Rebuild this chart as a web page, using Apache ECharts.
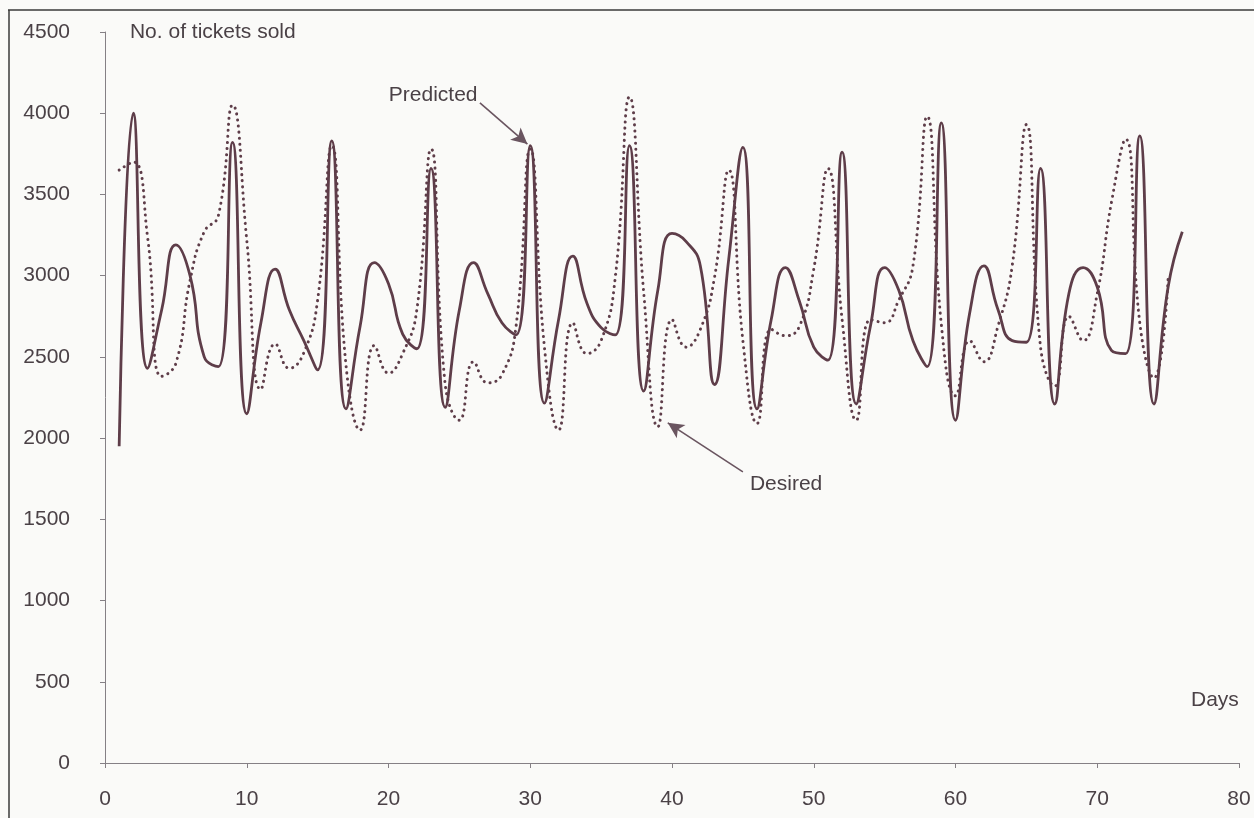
<!DOCTYPE html>
<html>
<head>
<meta charset="utf-8">
<script src="https://cdn.jsdelivr.net/npm/echarts@6/dist/echarts.min.js"></script>
<style>
html,body{margin:0;padding:0;background:#fafaf8;}
#c{width:1254px;height:818px;}
</style>
</head>
<body>
<div id="c"></div>
<script>
// Days 1..76
const days = Array.from({length: 76}, (_, i) => i + 1);

const predicted = [
  1950, 4000, 2430, 2790, 3190, 3000, 2500, 2440, 3820, 2150,
  2710, 3040, 2790, 2605, 2420, 3830, 2180, 2690, 3080, 2950,
  2640, 2550, 3660, 2190, 2790, 3080, 2890, 2710, 2635, 3800,
  2215, 2730, 3120, 2830, 2680, 2635, 3800, 2290, 2910, 3260,
  3210, 3060, 2330, 3100, 3790, 2180, 2730, 3050, 2840, 2560,
  2480, 3760, 2210, 2690, 3050, 2910, 2600, 2440, 3940, 2110,
  2770, 3060, 2790, 2600, 2590, 3660, 2210, 2890, 3050, 2930,
  2540, 2520, 3860, 2210, 2930, 3270
];

const desired = [
  3650, 3700, 3240, 2380, 2460, 2970, 3270, 3370, 4050, 3220,
  2300, 2580, 2430, 2520, 2850, 3800, 2450, 2050, 2570, 2400,
  2520, 2790, 3780, 2330, 2110, 2470, 2340, 2390, 2690, 3780,
  2560, 2050, 2710, 2520, 2600, 2990, 4100, 2900, 2070, 2730,
  2560, 2670, 2990, 3650, 2600, 2090, 2670, 2630, 2690, 3040,
  3660, 2730, 2110, 2730, 2710, 2850, 3060, 3980, 2700, 2260,
  2600, 2470, 2690, 3060, 3930, 2560, 2320, 2750, 2600, 2890,
  3450, 3840, 2710, 2370, 2980
];

const yTicks = [0, 500, 1000, 1500, 2000, 2500, 3000, 3500, 4000, 4500];
const xTicks = [0, 10, 20, 30, 40, 50, 60, 70, 80];

const INK = '#5e3d49';
const AXIS = '#858085';
const TEXT = '#4a4146';
const FONT = 'Liberation Sans, Arial, sans-serif';
const FS = 21;

const chart = echarts.init(document.getElementById('c'), null, {renderer: 'canvas'});

const predPairs = predicted.map((v, i) => [days[i], v]);
const desPairs = desired.map((v, i) => [days[i], v]);

chart.setOption({
  backgroundColor: '#fafaf8',
  animation: false,
  grid: {left: 105, right: 15, top: 32, bottom: 55, containLabel: false},
  xAxis: {
    type: 'value', min: xTicks[0], max: xTicks[xTicks.length - 1], interval: 10,
    axisLine: {show: true, onZero: false, lineStyle: {color: AXIS, width: 1}},
    axisTick: {show: true, length: 5, lineStyle: {color: AXIS}},
    axisLabel: {color: TEXT, fontSize: FS, fontFamily: FONT, margin: 26, formatter: v => String(v)},
    splitLine: {show: false}
  },
  yAxis: {
    type: 'value', min: yTicks[0], max: yTicks[yTicks.length - 1], interval: 500,
    axisLine: {show: true, lineStyle: {color: AXIS, width: 1}},
    axisTick: {show: true, length: 5, lineStyle: {color: AXIS}},
    axisLabel: {color: TEXT, fontSize: FS, fontFamily: FONT, margin: 35, formatter: v => String(v)},
    splitLine: {show: false}
  },
  series: [
    {
      name: 'Desired', type: 'line', data: desPairs, smooth: 0.5,
      showSymbol: false, symbol: 'none',
      lineStyle: {color: INK, width: 3, type: [0.1, 6], cap: 'round'},
      z: 2
    },
    {
      name: 'Predicted', type: 'line', data: predPairs, smooth: 0.5,
      showSymbol: false, symbol: 'none',
      lineStyle: {color: INK, width: 2.8},
      z: 3,
      markLine: {
        silent: true, symbol: ['none', 'arrow'], symbolSize: [12, 16],
        label: {show: false},
        lineStyle: {color: '#6a5560', width: 1.6, type: 'solid'},
        data: [
          [{coord: [26.45, 4064]}, {coord: [29.8, 3810]}],
          [{coord: [45.0, 1792]}, {coord: [39.7, 2094]}]
        ]
      }
    }
  ]
});

function px(x, y) { return chart.convertToPixel({gridIndex: 0}, [x, y]); }
const pPred = px(23.15, 4113);
const pDes = px(48.05, 1718);
const pYName = px(1.76, 4500);
const pDays = px(78.3, 388);

chart.setOption({
  graphic: [
    {type: 'text', x: pYName[0], y: pYName[1], style: {text: 'No. of tickets sold', fill: TEXT, font: FS + 'px ' + FONT, textAlign: 'left', textVerticalAlign: 'middle'}},
    {type: 'text', x: pPred[0], y: pPred[1], style: {text: 'Predicted', fill: TEXT, font: FS + 'px ' + FONT, textAlign: 'center', textVerticalAlign: 'middle'}},
    {type: 'text', x: pDes[0], y: pDes[1], style: {text: 'Desired', fill: TEXT, font: FS + 'px ' + FONT, textAlign: 'center', textVerticalAlign: 'middle'}},
    {type: 'text', x: pDays[0], y: pDays[1], style: {text: 'Days', fill: TEXT, font: FS + 'px ' + FONT, textAlign: 'center', textVerticalAlign: 'middle'}},
    {type: 'line', shape: {x1: 8, y1: 10, x2: 1254, y2: 10}, style: {stroke: '#3a3a3a', lineWidth: 1.5}},
    {type: 'line', shape: {x1: 9, y1: 10, x2: 9, y2: 818}, style: {stroke: '#3a3a3a', lineWidth: 1.5}}
  ]
});
</script>
</body>
</html>
